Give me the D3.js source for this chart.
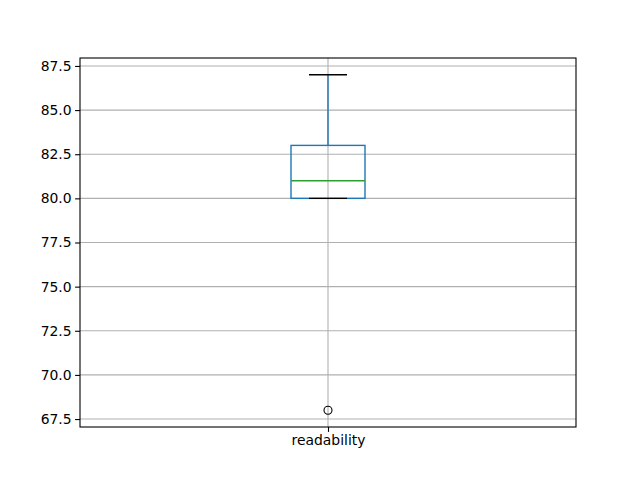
<!DOCTYPE html>
<html>
<head>
<meta charset="utf-8">
<script src="https://cdn.jsdelivr.net/npm/d3@7"></script>
<style>
  body { margin: 0; background: #fff; }
  text { font-family: "DejaVu Sans", sans-serif; }
</style>
</head>
<body>
<div id="vis"></div>
<script>
// data
const categories = ["readability"];
const q1 = [80];
const median = [81];
const q3 = [83];
const whiskerLow = [80];
const whiskerHigh = [87];
const outliers = [[68]];
const yTicks = [67.5, 70.0, 72.5, 75.0, 77.5, 80.0, 82.5, 85.0, 87.5];

const FRAME_WIDTH = 640;
const FRAME_HEIGHT = 480;
const MARGINS = {left: 80, right: 64, top: 58, bottom: 53};
const VIS_WIDTH = FRAME_WIDTH - MARGINS.left - MARGINS.right;
const VIS_HEIGHT = FRAME_HEIGHT - MARGINS.top - MARGINS.bottom;

const svg = d3.select("#vis").append("svg")
    .attr("width", FRAME_WIDTH)
    .attr("height", FRAME_HEIGHT);

const g = svg.append("g")
    .attr("transform", "translate(" + MARGINS.left + "," + MARGINS.top + ")");

// scales: matplotlib adds 5% margin on data range
const lo = d3.min([d3.min(whiskerLow), d3.min(outliers.flat())]);
const hi = d3.max([d3.max(whiskerHigh), d3.max(outliers.flat())]);
const pad = (hi - lo) * 0.05;
const Y = d3.scaleLinear().domain([lo - pad, hi + pad]).range([VIS_HEIGHT, 0]);
const X = d3.scalePoint().domain(categories).range([0, VIS_WIDTH]).padding(0.5);

// grid
g.append("g").selectAll("line").data(yTicks).enter().append("line")
    .attr("x1", 0).attr("x2", VIS_WIDTH)
    .attr("y1", d => Y(d)).attr("y2", d => Y(d))
    .attr("stroke", "#b0b0b0").attr("stroke-width", 1.1);
g.append("g").selectAll("line").data(categories).enter().append("line")
    .attr("x1", d => X(d)).attr("x2", d => X(d))
    .attr("y1", 0).attr("y2", VIS_HEIGHT)
    .attr("stroke", "#b0b0b0").attr("stroke-width", 1.1);

const boxW = 74;
const capW = 38;

categories.forEach((c, i) => {
  const cx = X(c);
  // whiskers
  g.append("line").attr("x1", cx).attr("x2", cx)
      .attr("y1", Y(q3[i])).attr("y2", Y(whiskerHigh[i]))
      .attr("stroke", "#1f77b4").attr("stroke-width", 1.4);
  g.append("line").attr("x1", cx).attr("x2", cx)
      .attr("y1", Y(q1[i])).attr("y2", Y(whiskerLow[i]))
      .attr("stroke", "#1f77b4").attr("stroke-width", 1.4);
  // box
  g.append("rect")
      .attr("x", cx - boxW / 2).attr("y", Y(q3[i]))
      .attr("width", boxW).attr("height", Y(q1[i]) - Y(q3[i]))
      .attr("fill", "none").attr("stroke", "#1f77b4").attr("stroke-width", 1.4);
  // caps
  [whiskerLow[i], whiskerHigh[i]].forEach(v => {
    g.append("line").attr("x1", cx - capW / 2).attr("x2", cx + capW / 2)
        .attr("y1", Y(v)).attr("y2", Y(v))
        .attr("stroke", "#000").attr("stroke-width", 1.4);
  });
  // median
  g.append("line").attr("x1", cx - boxW / 2).attr("x2", cx + boxW / 2)
      .attr("y1", Y(median[i])).attr("y2", Y(median[i]))
      .attr("stroke", "#2ca02c").attr("stroke-width", 1.4);
  // outliers
  g.selectAll(".out" + i).data(outliers[i]).enter().append("circle")
      .attr("cx", cx).attr("cy", d => Y(d)).attr("r", 4)
      .attr("fill", "none").attr("stroke", "#000").attr("stroke-width", 1.1);
});

// axes
const yAxis = g.append("g")
    .call(d3.axisLeft(Y).tickValues(yTicks).tickFormat(d3.format(".1f")).tickSizeOuter(0).tickSize(4.9).tickPadding(3.5));
const xAxis = g.append("g")
    .attr("transform", "translate(0," + VIS_HEIGHT + ")")
    .call(d3.axisBottom(X).tickSizeOuter(0).tickSize(4.9).tickPadding(3.5));
[yAxis, xAxis].forEach(a => {
  a.select(".domain").remove();
  a.selectAll("text").attr("font-size", "13.9px").attr("fill", "#000")
      .style("font-family", "DejaVu Sans, sans-serif");
  a.selectAll("line").attr("stroke", "#000").attr("stroke-width", 1.1);
});

// spines
g.append("rect").attr("x", 0).attr("y", 0)
    .attr("width", VIS_WIDTH).attr("height", VIS_HEIGHT)
    .attr("fill", "none").attr("stroke", "#000").attr("stroke-width", 1.1);
</script>
</body>
</html>
